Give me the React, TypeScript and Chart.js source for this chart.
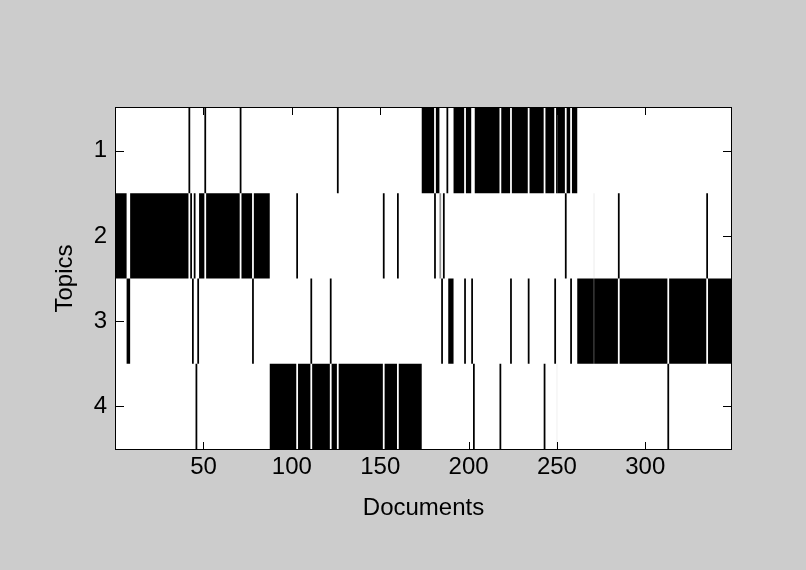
import React, { useEffect, useRef } from 'react';
import { Chart, registerables } from 'chart.js';

Chart.register(...registerables);

// ---- data ----
const TOPIC_LABELS = ['1', '2', '3', '4'];
const DOC_COUNT = 348;
const X_TICKS = [50, 100, 150, 200, 250, 300];

// contiguous blocks of documents sharing a dominant topic
const BLOCK_FIRST = [1, 88, 174, 262];
const BLOCK_LAST = [87, 173, 261, 348];
const BLOCK_TOPIC = [2, 4, 1, 3];

// documents whose topic differs from their block
const EXCEPTION_DOCS = [7, 8, 42, 44, 46, 47, 51, 71, 78, 103, 111, 122, 126, 152, 160, 181, 185, 186, 189, 190, 191, 198, 202, 203, 218, 224, 234, 243, 249, 255, 258, 285, 313, 335];
const EXCEPTION_TOPICS = [3, 3, 1, 3, 4, 3, 1, 1, 3, 2, 3, 3, 1, 2, 2, 2, 3, 2, 3, 3, 3, 3, 3, 4, 4, 3, 3, 4, 3, 2, 3, 2, 4, 2];

// mixed documents: each listed cell gets the given weight, the rest of the column is empty
const MIXED_DOCS = [184, 187, 250, 250, 271, 271];
const MIXED_TOPICS = [2, 1, 1, 4, 3, 2];
const MIXED_WEIGHTS = [0.42, 0.0, 0.97, 0.03, 0.92, 0.04];

const FONT = { family: 'Liberation Sans, Arial, sans-serif', size: 24 };

function buildWeights(): number[][] {
  const w: number[][] = TOPIC_LABELS.map(() => new Array(DOC_COUNT + 1).fill(0));
  for (let b = 0; b < BLOCK_FIRST.length; b++) {
    for (let d = BLOCK_FIRST[b]; d <= BLOCK_LAST[b]; d++) w[BLOCK_TOPIC[b] - 1][d] = 1;
  }
  EXCEPTION_DOCS.forEach((d, i) => {
    for (let t = 0; t < TOPIC_LABELS.length; t++) w[t][d] = 0;
    w[EXCEPTION_TOPICS[i] - 1][d] = 1;
  });
  const cleared = new Set<number>();
  MIXED_DOCS.forEach((d, i) => {
    if (!cleared.has(d)) {
      for (let t = 0; t < TOPIC_LABELS.length; t++) w[t][d] = 0;
      cleared.add(d);
    }
    w[MIXED_TOPICS[i] - 1][d] = MIXED_WEIGHTS[i];
  });
  return w;
}

function buildRuns() {
  const w = buildWeights();
  const pts: { x: [number, number]; y: string; w: number }[] = [];
  TOPIC_LABELS.forEach((label, t) => {
    let d = 1;
    while (d <= DOC_COUNT) {
      const v = w[t][d];
      if (v > 0) {
        let e = d;
        while (e + 1 <= DOC_COUNT && w[t][e + 1] === v) e++;
        pts.push({ x: [d - 0.5, e + 0.5], y: label, w: v });
        d = e + 1;
      } else d++;
    }
  });
  return pts;
}

function shade(v: number) {
  const c = Math.round(255 * (1 - v));
  return `rgb(${c},${c},${c})`;
}

const framePlugin = {
  id: 'matlabFrame',
  beforeDraw(chart: any) {
    const { ctx, width, height, chartArea: a } = chart;
    ctx.save();
    ctx.fillStyle = '#cccccc';
    ctx.fillRect(0, 0, width, height);
    ctx.fillStyle = '#ffffff';
    ctx.fillRect(a.left, a.top, a.right - a.left, a.bottom - a.top);
    ctx.restore();
  },
  afterDatasetsDraw(chart: any) {
    const { ctx, chartArea: a, scales } = chart;
    ctx.save();
    ctx.strokeStyle = '#000000';
    ctx.lineWidth = 1;
    ctx.beginPath();
    X_TICKS.forEach((v) => {
      const px = Math.round(scales.x.getPixelForValue(v)) + 0.5;
      ctx.moveTo(px, a.bottom);
      ctx.lineTo(px, a.bottom - 7);
      ctx.moveTo(px, a.top);
      ctx.lineTo(px, a.top + 7);
    });
    TOPIC_LABELS.forEach((_, i) => {
      const py = Math.round(scales.y.getPixelForValue(i)) + 0.5;
      ctx.moveTo(a.left, py);
      ctx.lineTo(a.left + 8, py);
      ctx.moveTo(a.right, py);
      ctx.lineTo(a.right - 8, py);
    });
    ctx.stroke();
    ctx.strokeRect(a.left - 0.5, a.top - 0.5, a.right - a.left + 1, a.bottom - a.top + 1);
    ctx.restore();
  },
};

export default function App() {
  const ref = useRef<HTMLCanvasElement | null>(null);
  useEffect(() => {
    document.body.style.margin = '0';
    const canvas = ref.current;
    if (!canvas) return;
    const chart = new Chart(canvas, {
      type: 'bar',
      data: {
        labels: TOPIC_LABELS,
        datasets: [
          {
            data: buildRuns() as any,
            backgroundColor: (c: any) => (c.raw ? shade(c.raw.w) : '#000'),
            borderWidth: 0,
            barPercentage: 1,
            categoryPercentage: 1,
            inflateAmount: 0,
          } as any,
        ],
      },
      options: {
        indexAxis: 'y',
        animation: false,
        responsive: false,
        devicePixelRatio: 1,
        events: [],
        layout: { padding: { top: 108, right: 75, bottom: 0, left: 0 } },
        plugins: { legend: { display: false }, tooltip: { enabled: false } },
        scales: {
          x: {
            type: 'linear',
            position: 'bottom',
            min: 0.5,
            max: DOC_COUNT + 0.5,
            bounds: 'data',
            grid: { display: false, drawTicks: false },
            border: { display: false },
            afterBuildTicks: (s: any) => {
              s.ticks = X_TICKS.map((value) => ({ value }));
            },
            afterFit: (s: any) => {
              s.height = 121;
            },
            ticks: { font: FONT, color: '#000', padding: 4, maxRotation: 0, autoSkip: false },
            title: { display: true, text: 'Documents', font: FONT, color: '#000', padding: { top: 0, bottom: 47 } },
          },
          y: {
            type: 'category',
            position: 'left',
            offset: true,
            grid: { display: false, drawTicks: false },
            border: { display: false },
            afterFit: (s: any) => {
              s.width = 116;
            },
            ticks: { font: FONT, color: '#000', padding: 9, autoSkip: false },
            title: { display: true, text: 'Topics', font: FONT, color: '#000', padding: { top: 51, bottom: 0 } },
          },
        },
      } as any,
      plugins: [framePlugin],
    });
    return () => chart.destroy();
  }, []);
  return <canvas ref={ref} width={806} height={570} style={{ display: 'block' }} />;
}
